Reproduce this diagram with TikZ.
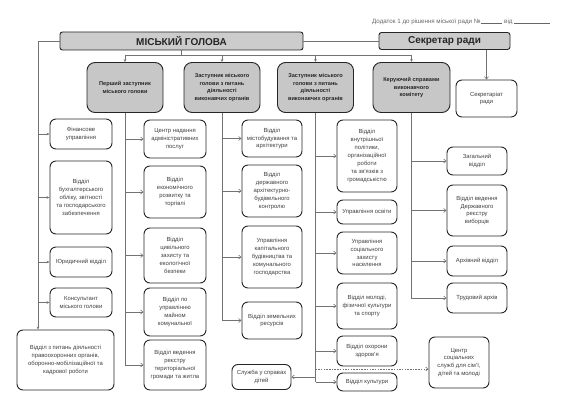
\documentclass[tikz,border=0pt]{standalone}
\usepackage{fontspec}
\setmainfont{Liberation Sans}
\usetikzlibrary{arrows.meta}
\begin{document}
\begin{tikzpicture}[x=1pt,y=-1pt,
  sz/.style 2 args={minimum width=#1pt, minimum height=#2pt},
  wbox/.style={draw=black!85, line width=0.9pt, rounded corners=6pt, fill=white, align=center, font=\fontsize{5.9}{7.9}\selectfont, text=black!75, inner sep=1pt},
  gbox/.style={wbox, fill=black!22, font=\bfseries\fontsize{5.6}{7.6}\selectfont, text=black!85, rounded corners=8pt},
  hbox/.style={draw=black!85, line width=0.9pt, rounded corners=2.5pt, fill=black!20, font=\bfseries\fontsize{10}{12}\selectfont, text=black!85, inner sep=0pt},
  conn/.style={draw=black!55, line width=0.6pt},
  arr/.style={conn, -{Straight Barb[length=2.5pt,width=4pt]}},
  darr/.style={conn, -{Stealth[length=3pt,width=2.6pt]}},
]
\useasboundingbox (0,0) rectangle (567,406);

\node[anchor=west, font=\fontsize{6.2}{7}\selectfont, text=black!60, inner sep=0pt] (dod) at (372,22)
  {Додаток 1 до рішення міської ради №\rule{22pt}{0.3pt} від \rule{36pt}{0.3pt}};

% header
\node[hbox, sz={243}{18}] (mayor) at (181.5,41) {МІСЬКИЙ ГОЛОВА};
\node[hbox, sz={131}{17}] (secr) at (444.5,41) {Секретар ради};

\node[gbox, sz={76}{50}] (dep1) at (125,87.5) {Перший заступник\\міського голови};
\node[gbox, sz={76}{50}] (dep2) at (222,87.5) {Заступник міського\\голови з питань\\діяльності\\виконавчих органів};
\node[gbox, sz={76}{50}] (dep3) at (315.5,87.5) {Заступник міського\\голови з питань\\діяльності\\виконавчих органів};
\node[gbox, sz={77}{50}] (kerus) at (411.5,87.5) {Керуючий справами\\виконавчого\\комітету};

% left column
\node[wbox, sz={62}{30}] (fin) at (81,134) {Фінансове\\управління};
\node[wbox, sz={62}{73}] (buh) at (81,197.5) {Відділ\\бухгалтерського\\обліку, звітності\\та господарського\\забезпечення};
\node[wbox, sz={62}{30}] (yur) at (81,262) {Юридичний відділ};
\node[wbox, sz={62}{29}] (kons) at (81,302.5) {Консультант\\міського голови};
\node[wbox, sz={97}{60}] (vpo) at (65.5,360) {Відділ з питань діяльності\\правоохоронних органів,\\оборонно-мобілізаційної та\\кадрової роботи};

% first deputy column
\node[wbox, sz={62}{38}] (cnap) at (175,139) {Центр надання\\адміністративних\\послуг};
\node[wbox, sz={62}{52}] (econ) at (175,192) {Відділ\\економічного\\розвитку та\\торгівлі};
\node[wbox, sz={62}{55}] (civ) at (175,255.5) {Відділ\\цивільного\\захисту та\\екологічної\\безпеки};
\node[wbox, sz={62}{48}] (mayno) at (175,312) {Відділ по\\управлінню\\майном\\комунальної};
\node[wbox, sz={62}{50}] (reestr) at (175,365) {Відділ ведення\\реєстру\\територіальної\\громади та житла};

% second deputy column
\node[wbox, sz={60}{37}] (misto) at (272,138.5) {Відділ\\містобудування та\\архітектури};
\node[wbox, sz={60}{52}] (dabk) at (272,191) {Відділ\\державного\\архітектурно-\\будівельного\\контролю};
\node[wbox, sz={60}{62}] (ukb) at (272,257) {Управління\\капітального\\будівництва та\\комунального\\господарства};
\node[wbox, sz={60}{37}] (zem) at (272,320.5) {Відділ земельних\\ресурсів};

% third deputy column
\node[wbox, sz={60}{72}] (vnutr) at (367,156) {Відділ\\внутрішньої\\політики,\\організаційної\\роботи\\та зв’язків з\\громадськістю};
\node[wbox, sz={60}{24}] (osv) at (367,212) {Управління освіти};
\node[wbox, sz={60}{42}] (uszn) at (367,253) {Управління\\соціального\\захисту\\населення};
\node[wbox, sz={60}{46}] (molod) at (367,306) {Відділ молоді,\\фізичної культури\\та спорту};
\node[wbox, sz={60}{30}] (zdor) at (367,351) {Відділ охорони\\здоров’я};
\node[wbox, sz={60}{18}] (kult) at (367,382) {Відділ культури};
\node[wbox, sz={59}{25}] (sluzh) at (261.5,377) {Служба у справах\\дітей};
\node[wbox, sz={60}{51}] (cssd) at (459,362.5) {Центр\\соціальних\\служб для сім’ї,\\дітей та молоді};

% kerus column
\node[wbox, sz={61}{37}] (sekr) at (486.5,98.5) {Секретаріат\\ради};
\node[wbox, sz={60}{28}] (zag) at (477,161) {Загальний\\відділ};
\node[wbox, sz={60}{51}] (vyb) at (477,210.5) {Відділ ведення\\Державного\\реєстру\\виборців};
\node[wbox, sz={60}{30}] (arh) at (477,261) {Архівний відділ};
\node[wbox, sz={60}{30}] (trud) at (477,298) {Трудовий архів};

% connectors: header
\draw[conn] (mayor.east) -- (secr.west);
\coordinate (lt) at (38,41);
\draw[darr] (mayor.west) -- (lt) -- (lt |- vpo.north);
\foreach \n in {fin,buh,yur,kons} \draw[darr] (lt |- \n.west) -- (\n.west);

\coordinate (mb) at (181.5,55);
\draw[conn] (mayor.south) -- (mb);
\draw[conn] (dep1.north |- mb) -- (kerus.north |- mb);
\foreach \n in {dep1,dep2,dep3,kerus} \draw[darr] (\n.north |- mb) -- (\n.north);

\draw[arr] (sekr.north |- secr.south) -- (sekr.north);

% deputy stems
\draw[conn] (dep1.south) -- (dep1.south |- reestr.west);
\foreach \n in {cnap,econ,civ,mayno,reestr} \draw[arr] (dep1.south |- \n.west) -- (\n.west);

\draw[conn] (dep2.south) -- (dep2.south |- zem.west);
\foreach \n in {misto,dabk,ukb,zem} \draw[arr] (dep2.south |- \n.west) -- (\n.west);

\draw[conn] (dep3.south) -- (dep3.south |- kult.west);
\foreach \n in {vnutr,osv,uszn,molod,zdor,kult} \draw[arr] (dep3.south |- \n.west) -- (\n.west);
\draw[arr] (dep3.south |- sluzh.east) -- (sluzh.east);
\coordinate (dsh) at (0,369);
\draw[arr, dashed, dash pattern=on 1.5pt off 1.2pt] (dep3.south |- dsh) -- (cssd.west |- dsh);

\draw[arr] (kerus.south) |- (trud.west);
\foreach \n in {zag,vyb,arh} \draw[arr] (kerus.south |- \n.west) -- (\n.west);
\end{tikzpicture}
\end{document}
